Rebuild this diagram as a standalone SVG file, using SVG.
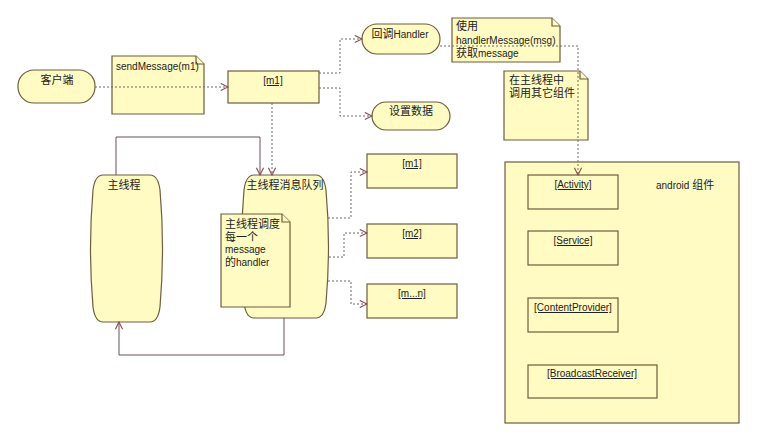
<svg xmlns="http://www.w3.org/2000/svg" width="760" height="445" viewBox="0 0 760 445">
<style>
.n{fill:#FFFBC2;stroke:#6e5d3e;stroke-width:1.2}
.t{font-family:"Liberation Sans","Noto Sans CJK SC",sans-serif;font-size:10px;fill:#222}
.k{font-size:11px}
.c{text-anchor:middle}
.u{text-decoration:underline}
.d{fill:none;stroke:#6f6a66;stroke-width:1;stroke-dasharray:2,2}
.s{fill:none;stroke:#6e4e52;stroke-width:1}
</style>
<defs>
<marker id="a" viewBox="0 0 10 10" refX="9" refY="5" markerWidth="9" markerHeight="9" orient="auto" markerUnits="userSpaceOnUse">
<path d="M1,1 L9,5 L1,9" fill="none" stroke="#8a4a4a" stroke-width="1.2"/>
</marker>
</defs>
<rect width="760" height="445" fill="#fff"/>
<g id="client"><rect class="n" x="18" y="70" width="77" height="33" rx="16"/><text class="t k c" x="57" y="84">客户端</text></g>
<g id="note-send"><path class="n" d="M112,56 H196 L204,64 V114 H112 Z"/><path class="n" d="M196,56 V64 H204" fill="none"/><text class="t" x="116" y="70">sendMessage(m1)</text></g>
<g id="m1"><rect class="n" x="228" y="71" width="91" height="32"/><text class="t c u" x="273" y="84">[m1]</text></g>
<g id="callback"><rect class="n" x="362" y="24" width="78" height="30" rx="15"/><text class="t k c" x="400" y="38">回调<tspan style="font-size:10px">Handler</tspan></text></g>
<g id="setdata"><rect class="n" x="372" y="102" width="78" height="28" rx="14"/><text class="t k c" x="411" y="115">设置数据</text></g>
<g id="note-use"><path class="n" d="M452,18 H552 L560,26 V62 H452 Z"/><path class="n" d="M552,18 V26 H560" fill="none"/><text class="t k" x="456" y="30">使用</text><text class="t" x="456" y="44">handlerMessage(msg)</text><text class="t k" x="456" y="57">获取<tspan style="font-size:10px">message</tspan></text></g>
<g id="note-call"><path class="n" d="M504,71 H580 L588,79 V140 H504 Z"/><path class="n" d="M580,71 V79 H588" fill="none"/><text class="t k" x="509" y="84">在主线程中</text><text class="t k" x="509" y="97">调用其它组件</text></g>
<g id="mainthread"><path class="n" d="M103,175 H150 Q158,175 160,190 Q165,248 160,307 Q158,322 150,322 H103 Q95,322 93,307 Q88,248 93,190 Q95,175 103,175 Z"/><text class="t k c" x="124" y="189">主线程</text></g>
<g id="queue"><path class="n" d="M254,175 H316 Q324,175 326,190 Q331,246 326,303 Q324,318 316,318 H254 Q246,318 244,303 Q239,246 244,190 Q246,175 254,175 Z"/><text class="t k c" x="285" y="189">主线程消息队列</text></g>
<g id="note-dispatch"><path class="n" d="M221,214 H282 L290,222 V307 H221 Z"/><path class="n" d="M282,214 V222 H290" fill="none"/><text class="t k" x="225" y="228">主线程调度</text><text class="t k" x="225" y="241">每一个</text><text class="t" x="225" y="253">message</text><text class="t k" x="225" y="266">的<tspan style="font-size:10px">handler</tspan></text></g>
<g id="q-m1"><rect class="n" x="367" y="154" width="90" height="34"/><text class="t c u" x="412" y="167">[m1]</text></g>
<g id="q-m2"><rect class="n" x="367" y="224" width="90" height="34"/><text class="t c u" x="412" y="237">[m2]</text></g>
<g id="q-mn"><rect class="n" x="367" y="284" width="90" height="34"/><text class="t c u" x="412" y="297">[m...n]</text></g>
<g id="android"><rect class="n" x="505" y="162" width="234" height="261"/><text class="t" x="656" y="189">android <tspan style="font-size:11px">组件</tspan></text>
<g id="activity"><rect class="n" x="528" y="175" width="90" height="34"/><text class="t c u" x="573" y="188">[Activity]</text></g>
<g id="service"><rect class="n" x="528" y="231" width="90" height="34"/><text class="t c u" x="573" y="244">[Service]</text></g>
<g id="provider"><rect class="n" x="528" y="298" width="90" height="34"/><text class="t c u" x="573" y="311">[ContentProvider]</text></g>
<g id="receiver"><rect class="n" x="528" y="365" width="129" height="33"/><text class="t c u" x="592" y="377">[BroadcastReceiver]</text></g>
</g>
<g id="connectors">
<path class="d" d="M95,87 H228" marker-end="url(#a)"/>
<path class="d" d="M319,73 H340 V39 H362" marker-end="url(#a)"/>
<path class="d" d="M319,88 H340 V116 H372" marker-end="url(#a)"/>
<path class="d" d="M272,103 V175" marker-end="url(#a)"/>
<path class="d" d="M440,46 H578 V175" marker-end="url(#a)"/>
<path class="s" d="M116,175 V137 H260 V175" marker-end="url(#a)"/>
<path class="s" d="M284,318 V355 H119 V322" marker-end="url(#a)"/>
<path class="d" d="M328,218 H351 V172 H367" marker-end="url(#a)"/>
<path class="d" d="M329,257 H344 V233 H367" marker-end="url(#a)"/>
<path class="d" d="M328,281 H351 V304 H367" marker-end="url(#a)"/>
</g>
</svg>
